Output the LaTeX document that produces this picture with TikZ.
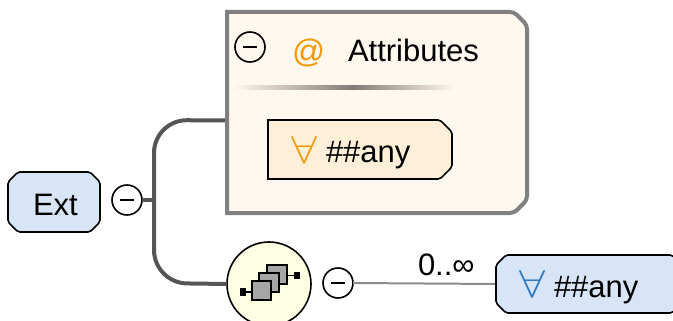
\documentclass[tikz,border=0pt]{standalone}
\usepackage{fontspec}
\setmainfont{Liberation Sans}
\usetikzlibrary{calc}
\definecolor{blueFill}{HTML}{D8E5F7}
\definecolor{attrFill}{HTML}{FFF8EE}
\definecolor{anyFill}{HTML}{FEF0D8}
\definecolor{seqFill}{HTML}{FFFFE4}
\definecolor{orangeInk}{HTML}{F39A0B}
\definecolor{blueInk}{HTML}{2F78C4}
\definecolor{wire}{HTML}{555555}
\pgfdeclarehorizontalshading{ruleshade}{100bp}{color(0bp)=(attrFill); color(25bp)=(attrFill); color(52bp)=(black!50!attrFill); color(75bp)=(attrFill); color(100bp)=(attrFill)}
\newcommand{\allSides}[2]{% node, chamfer: all four corners cut
  (#1.north west) ++(#2,0) -- ($(#1.north east)+(-#2,0)$) -- ($(#1.north east)+(0,-#2)$) -- ($(#1.south east)+(0,#2)$) -- ($(#1.south east)+(-#2,0)$) -- ($(#1.south west)+(#2,0)$) -- ($(#1.south west)+(0,#2)$) -- ($(#1.north west)+(0,-#2)$) -- cycle}
\newcommand{\rightSides}[3]{% node, chamfer, softening: right corners cut, left corners square
  (#1.north) [rounded corners=#3] -- ($(#1.north east)+(-#2,0)$) -- ($(#1.north east)+(0,-#2)$) -- ($(#1.south east)+(0,#2)$) -- ($(#1.south east)+(-#2,0)$) -- (#1.south) [sharp corners] -- (#1.south west) -- (#1.north west) -- cycle}
\newcommand{\allSign}{\resizebox{26pt}{27pt}{$\forall$}}
\tikzset{
  px/.style={x=1pt,y=-1pt},
  slot/.style={rectangle,inner sep=0pt,outer sep=0pt},
  boxline/.style={draw=black,line width=1.6pt,line join=miter},
  softbox/.style={boxline,rounded corners=2pt},
  label/.style={inner sep=0pt,outer sep=0pt,anchor=base west,font=\fontsize{31}{31}\selectfont},
  toggle/.style={circle,draw=black,line width=1.6pt,fill=white,minimum size=30pt,inner sep=0pt,outer sep=0pt},
  bar/.style={line width=1.6pt,black},
  wirebold/.style={draw=wire,line width=4pt},
  wirethin/.style={draw=black!45,line width=2pt},
  cube/.style={draw=black,line width=1.4pt,fill=black!35},
  stub/.style={draw=black,line width=1.4pt}
}
\begin{document}
\begin{tikzpicture}[px]
\useasboundingbox (0,0) rectangle (673,321);
\clip (0,0) rectangle (673,321);
% box nodes
\node[slot,minimum width=92pt,minimum height=60pt] (ext) at (54,202) {};
\node[slot,minimum width=300pt,minimum height=201pt] (attrs) at (377,112.5) {};
\node[slot,minimum width=184pt,minimum height=59pt] (attrAny) at (360,149.5) {};
\node[slot,minimum width=186pt,minimum height=58pt] (anyNode) at (589,284) {};
\node[circle,draw=black,line width=1.6pt,fill=seqFill,minimum size=84pt,inner sep=0pt,outer sep=0pt] (seq) at (269,284) {};
% connectors
\coordinate (junction) at (154,200);
\coordinate (attrsEntry) at ($(attrs.west)+(0,-8pt)$);
\node[toggle] (extMinus) at (127,200) {};
\node[toggle] (seqMinus) at (338,283) {};
\draw[wirebold] (extMinus.east) -- (junction);
\draw[wirebold,rounded corners=33pt] (attrsEntry) -- (154,120) -- (154,283) -- (seq.west);
\draw[wirethin] (seqMinus.east) -- (anyNode.west);
% box outlines
\path[softbox,fill=blueFill] \allSides{ext}{10pt};
\path[draw=black!50,line width=4pt,line join=miter,fill=attrFill] \rightSides{attrs}{13pt}{4pt};
\path[boxline,fill=anyFill] \rightSides{attrAny}{12pt}{2pt};
\path[softbox,fill=blueFill] \allSides{anyNode}{10pt};
% texts
\node[label] (extText) at (33,215) {Ext};
\node[toggle,fill=none] (attrMinus) at (250,47) {};
\node[label,text=orangeInk,font=\fontsize{32.5}{33}\selectfont] (atSign) at (292,63) {@};
\node[label] (attrTitle) at (348,62) {Attributes};
\path[shading=ruleshade] (233,86) rectangle (455,90);
\node[label,text=orangeInk] (attrAll) at (291,163) {\allSign};
\node[label] (attrAnyText) at (326,163) {\#\#any};
\node[label,text=blueInk] (anyAll) at (519,297) {\allSign};
\node[label] (anyText) at (554,297) {\#\#any};
\node[label] (card) at (418,275) {0..∞};
% toggles' bars
\foreach \n in {extMinus,attrMinus,seqMinus}
  \draw[bar] ([xshift=-7pt]\n.center) -- ([xshift=7pt]\n.center);
% sequence icon
\draw[stub] (246,292) -- (252,292);
\draw[stub] (287,275.5) -- (294,275.5);
\fill[black] (240,288) rectangle (246,296);
\fill[black] (294,272) rectangle (300,279);
\draw[cube] (267,265) rectangle (287,284);
\draw[cube] (259,273) rectangle (279,292);
\draw[cube] (252,281) rectangle (271,300);
\end{tikzpicture}
\end{document}
